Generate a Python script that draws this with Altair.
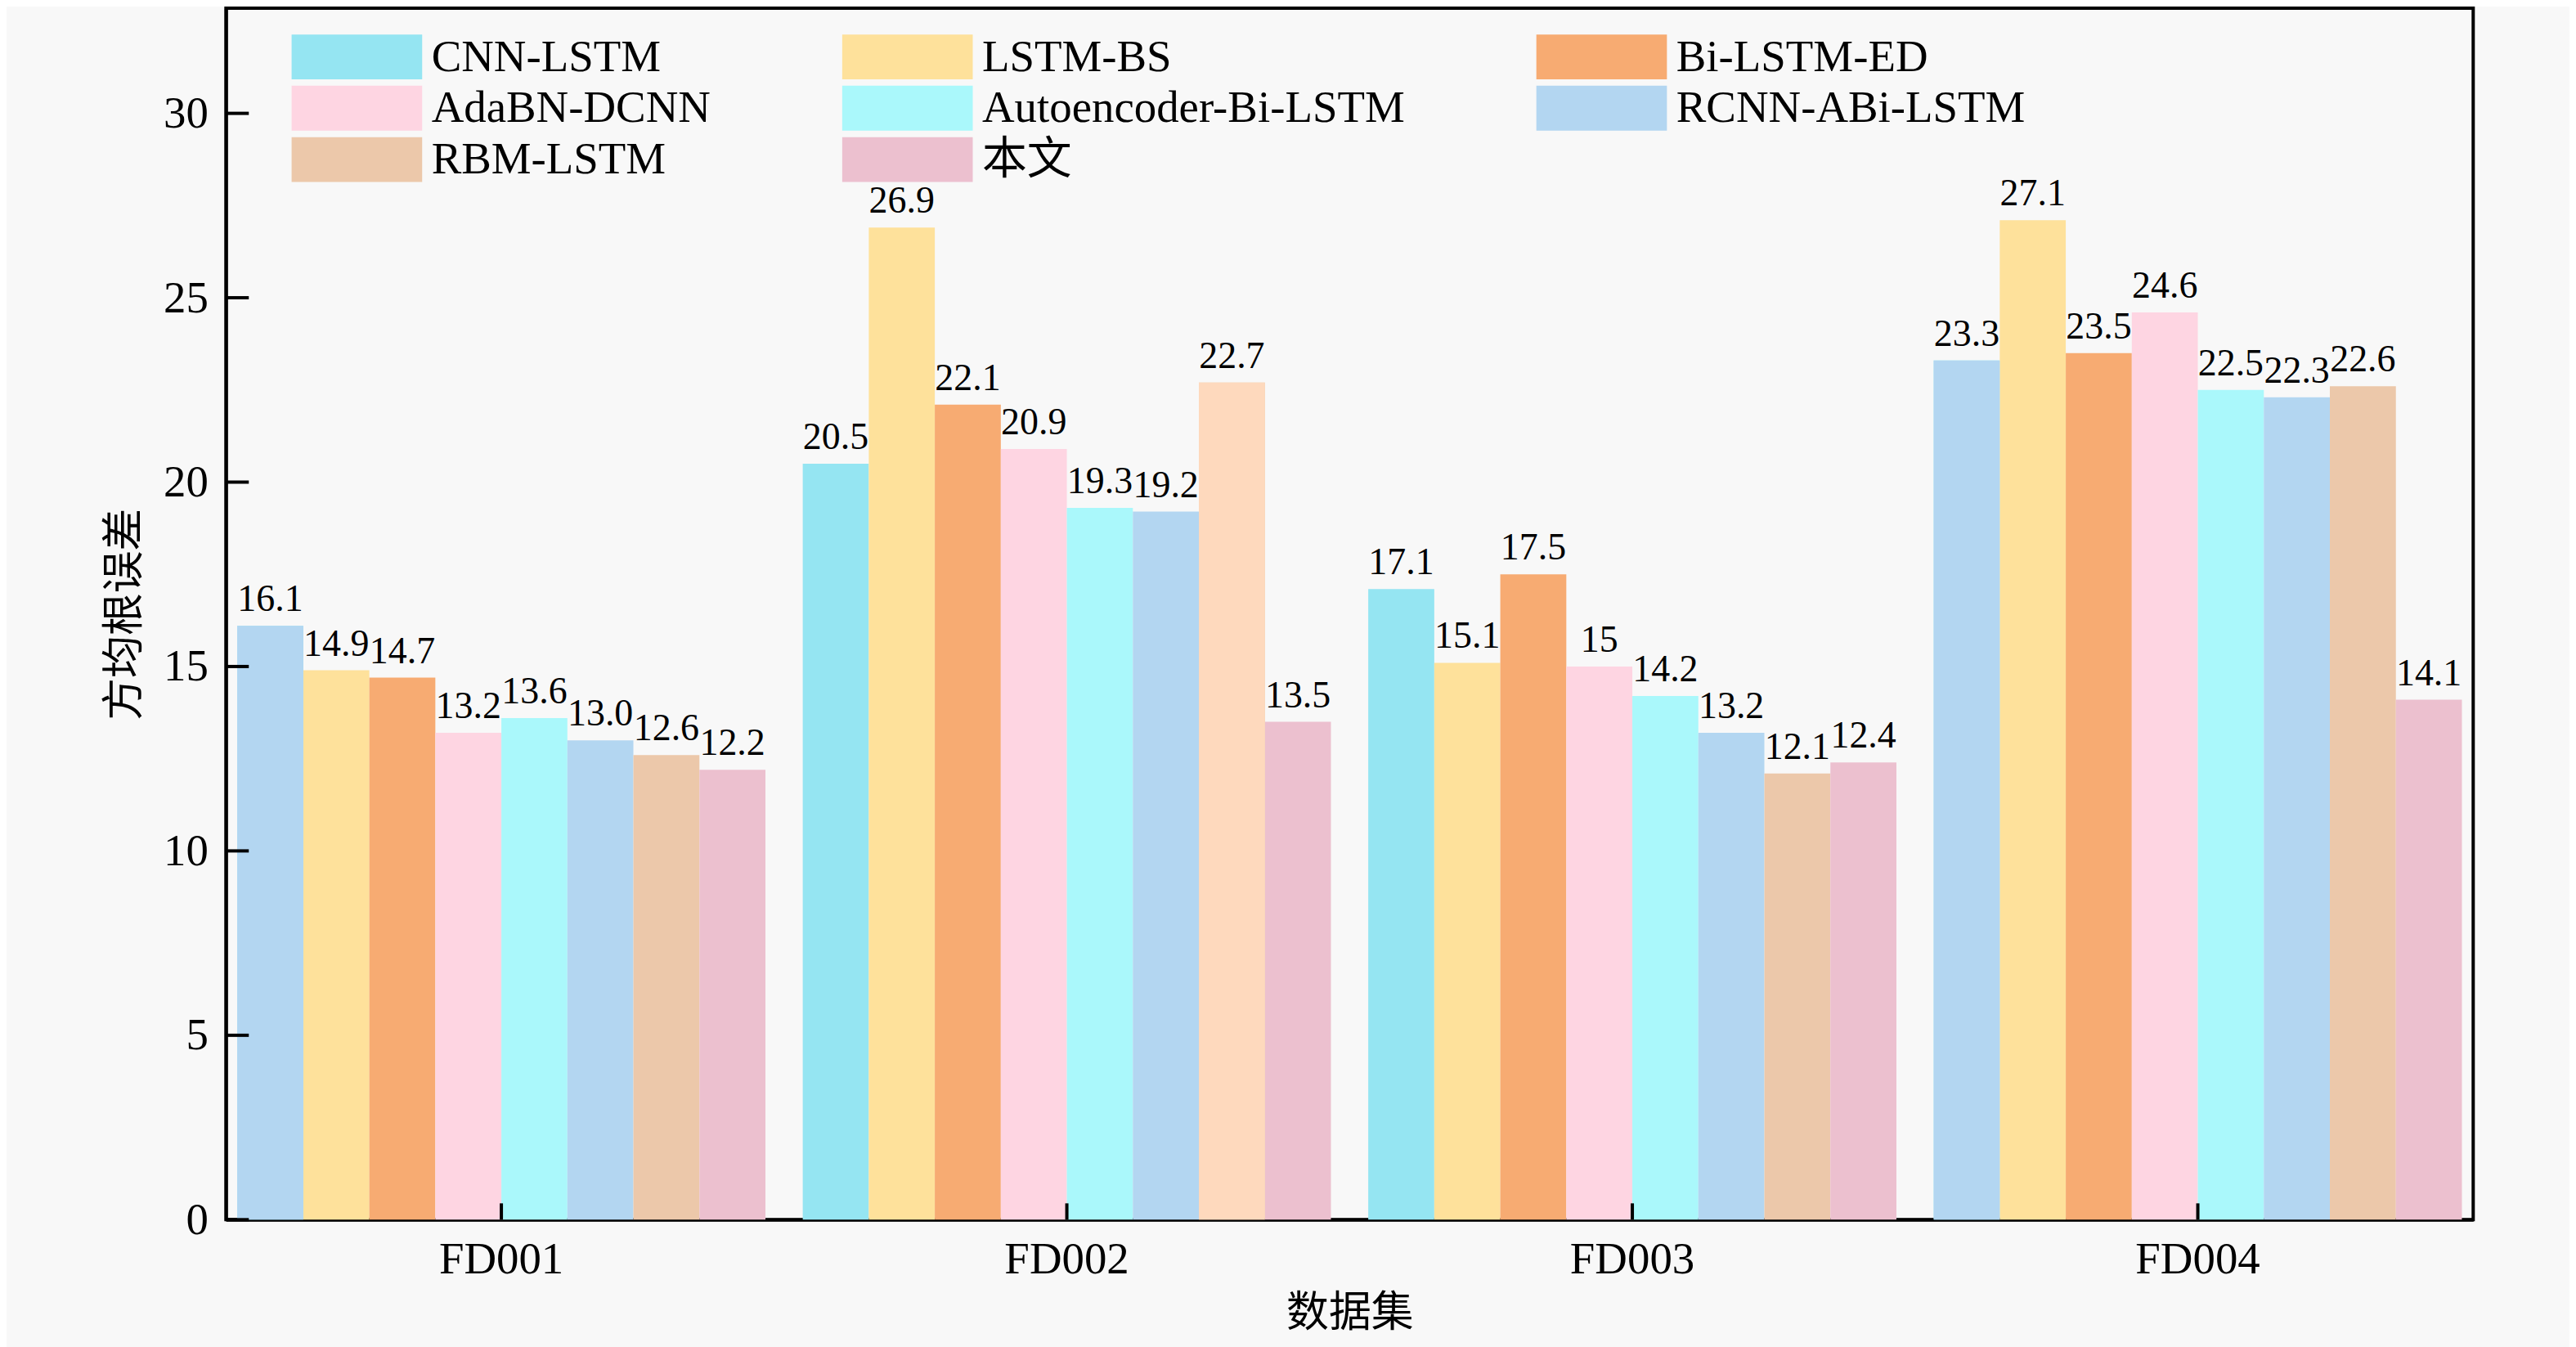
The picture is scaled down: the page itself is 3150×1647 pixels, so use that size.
import altair as alt
import pandas as pd

datasets = ["FD001", "FD002", "FD003", "FD004"]
models = ["CNN-LSTM", "LSTM-BS", "Bi-LSTM-ED", "AdaBN-DCNN",
          "Autoencoder-Bi-LSTM", "RCNN-ABi-LSTM", "RBM-LSTM", "本文"]

fd001 = [16.1, 14.9, 14.7, 13.2, 13.6, 13.0, 12.6, 12.2]
fd002 = [20.5, 26.9, 22.1, 20.9, 19.3, 19.2, 22.7, 13.5]
fd003 = [17.1, 15.1, 17.5, 15.0, 14.2, 13.2, 12.1, 12.4]
fd004 = [23.3, 27.1, 23.5, 24.6, 22.5, 22.3, 22.6, 14.1]

labels_fd001 = ["16.1", "14.9", "14.7", "13.2", "13.6", "13.0", "12.6", "12.2"]
labels_fd002 = ["20.5", "26.9", "22.1", "20.9", "19.3", "19.2", "22.7", "13.5"]
labels_fd003 = ["17.1", "15.1", "17.5", "15", "14.2", "13.2", "12.1", "12.4"]
labels_fd004 = ["23.3", "27.1", "23.5", "24.6", "22.5", "22.3", "22.6", "14.1"]

y_ticks = [0, 5, 10, 15, 20, 25, 30]

palette = ["#95e5f2", "#fee19b", "#f7ab72", "#fed5e2",
           "#aaf8fb", "#b3d6f1", "#ecc8aa", "#ecc0cf"]
# individual bars drawn in a different shade in the reference
overrides = {("FD001", "CNN-LSTM"): "#b3d6f1",
             ("FD004", "CNN-LSTM"): "#b3d6f1",
             ("FD002", "RBM-LSTM"): "#fed9bd"}

rows = []
for ds, vals, labs in zip(datasets, [fd001, fd002, fd003, fd004],
                          [labels_fd001, labels_fd002, labels_fd003, labels_fd004]):
    for m, v, l in zip(models, vals, labs):
        rows.append({"dataset": ds, "model": m, "value": v, "label": l,
                     "fill": overrides.get((ds, m))})
df = pd.DataFrame(rows)

W, H = 2755, 1485
SERIF = "Liberation Serif"
MIXED = "Liberation Serif, Noto Sans CJK SC"
CJK = "Noto Sans CJK SC"

x_enc = alt.X("dataset:N", sort=datasets,
              scale=alt.Scale(paddingInner=0.066, paddingOuter=0.02),
              axis=alt.Axis(title="数据集", labelAngle=0, labelPadding=22,
                            titlePadding=14, labelFont=SERIF))
xo_enc = alt.XOffset("model:N", sort=models,
                     scale=alt.Scale(paddingInner=0, paddingOuter=0))
y_enc = alt.Y("value:Q", scale=alt.Scale(domain=[0, 32.85], nice=False),
              axis=alt.Axis(title="方均根误差", values=y_ticks, labelPadding=22,
                            titlePadding=20, labelFont=SERIF))

bars = alt.Chart(df).mark_bar().encode(
    x=x_enc, xOffset=xo_enc, y=y_enc,
    color=alt.Color("model:N", sort=models,
                    scale=alt.Scale(domain=models, range=palette),
                    legend=alt.Legend(
                        title=None, orient="none", legendX=133, legendY=32,
                        columns=3, direction="horizontal", columnPadding=160,
                        rowPadding=7,
                        symbolType="M-2.91,-1H2.91V1H-2.91Z", symbolSize=3025,
                        symbolStrokeWidth=0, labelFont=MIXED, labelFontSize=55,
                        labelOffset=64, labelLimit=1000, labelColor="black",
                        padding=0))
)

bars_over = alt.Chart(df).transform_filter("datum.fill != null").mark_bar().encode(
    x=x_enc, xOffset=xo_enc, y=y_enc,
    fill=alt.Fill("fill:N", scale=None)
)

texts = alt.Chart(df).mark_text(baseline="bottom", dy=-8, font=SERIF,
                                 fontSize=46, color="black").encode(
    x=x_enc, xOffset=xo_enc, y=y_enc, text="label:N"
)

ytick_df = pd.DataFrame({"value": y_ticks})
yticks = alt.Chart(ytick_df).mark_rule(color="black", strokeWidth=4).encode(
    y=y_enc, x=alt.value(0), x2=alt.value(28)
)

xtick_df = pd.DataFrame({"dataset": datasets})
xticks = alt.Chart(xtick_df).mark_rule(color="black", strokeWidth=4).encode(
    x=x_enc, y=alt.value(H), y2=alt.value(H - 20)
)

chart = alt.layer(bars, bars_over, texts, yticks, xticks).properties(
    width=W, height=H,
    padding={"left": 269, "top": 0, "right": 118, "bottom": 154},
    autosize=alt.AutoSizeParams(type="none"),
    background="#f8f8f8",
).configure_view(
    stroke="black", strokeWidth=4, fill="#f8f8f8"
).configure_axis(
    domainColor="black", domainWidth=4, ticks=False, tickSize=0, grid=False,
    labelFont=SERIF, labelFontSize=55, labelColor="black",
    titleFont=CJK, titleFontSize=52, titleColor="black", titleFontWeight="normal"
)

chart.save("out.html", embed_options={"renderer": "svg", "actions": False})
